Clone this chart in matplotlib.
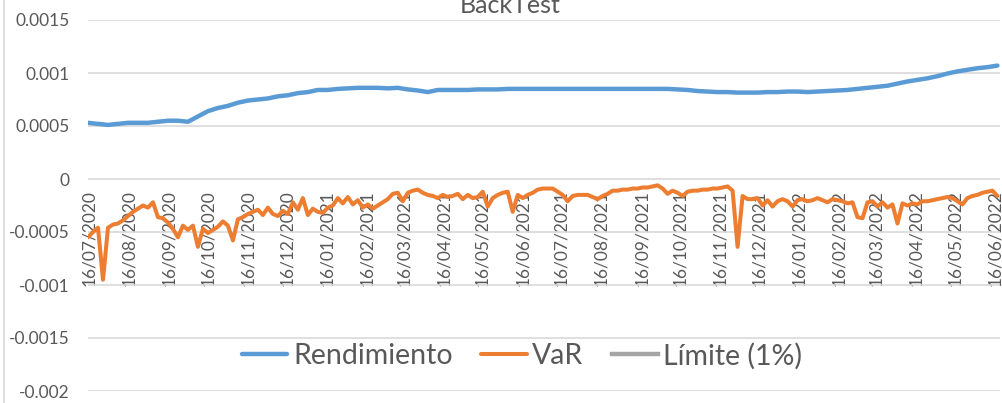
import matplotlib
matplotlib.use("Agg")
import matplotlib.pyplot as plt
import matplotlib.lines as mlines
import pandas as pd

plt.rcParams["font.family"] = ["Lato", "DejaVu Sans"]

# ---------------- data ----------------
title = "BackTest"
series_names = ["Rendimiento", "VaR", "Límite (1%)"]
start_date = "2020-07-15"
end_date = "2022-06-18"

rendimiento = [53e-5, 52e-5, 51e-5, 52e-5, 53e-5, 53e-5, 53e-5, 54e-5, 55e-5, 55e-5,
               54e-5, 59e-5, 64e-5, 67e-5, 69e-5, 72e-5, 74e-5, 75e-5, 76e-5, 78e-5,
               79e-5, 81e-5, 82e-5, 84e-5, 84e-5, 85e-5, 85.5e-5, 86e-5, 86e-5, 86e-5,
               85.5e-5, 86e-5, 84.5e-5, 83.5e-5, 82e-5, 84e-5, 84e-5, 84e-5, 84e-5, 84.5e-5,
               84.5e-5, 84.5e-5, 85e-5, 85e-5, 85e-5, 85e-5, 85e-5, 85e-5, 85e-5, 85e-5,
               85e-5, 85e-5, 85e-5, 85e-5, 85e-5, 85e-5, 85e-5, 85e-5, 85e-5, 84.5e-5,
               84e-5, 83e-5, 82.5e-5, 82e-5, 82e-5, 81.5e-5, 81.5e-5, 81.5e-5, 82e-5, 82e-5,
               82.5e-5, 82.5e-5, 82e-5, 82.5e-5, 83e-5, 83.5e-5, 84e-5, 85e-5, 86e-5, 87e-5,
               88e-5, 90e-5, 92e-5, 93.5e-5, 95e-5, 97e-5, 99.5e-5, 101.5e-5, 103e-5, 104.5e-5,
               105.5e-5, 107e-5]

var = [-55e-5, -50e-5, -46e-5, -95e-5, -46e-5, -43e-5, -42e-5, -39e-5, -35e-5, -31e-5,
       -28e-5, -25e-5, -27e-5, -22e-5, -36e-5, -37e-5, -41e-5, -47e-5, -55e-5, -44e-5,
       -48e-5, -44e-5, -64e-5, -47e-5, -51e-5, -48e-5, -45e-5, -40e-5, -44e-5, -58e-5,
       -38e-5, -36e-5, -33e-5, -31e-5, -29e-5, -34e-5, -27e-5, -33e-5, -35e-5, -30e-5,
       -33e-5, -22e-5, -29e-5, -18e-5, -34e-5, -28e-5, -31e-5, -32e-5, -27e-5, -25e-5,
       -18e-5, -23e-5, -17e-5, -24e-5, -20e-5, -27e-5, -24e-5, -28e-5, -25e-5, -22e-5,
       -19e-5, -14e-5, -13e-5, -21e-5, -13e-5, -11e-5, -10e-5, -13e-5, -15e-5, -16e-5,
       -18e-5, -15e-5, -17e-5, -16e-5, -14e-5, -19e-5, -15e-5, -18e-5, -17e-5, -12e-5,
       -26e-5, -18e-5, -15e-5, -13e-5, -12e-5, -31e-5, -15e-5, -18e-5, -15e-5, -13e-5,
       -10e-5, -9e-5, -9e-5, -9e-5, -12e-5, -15e-5, -21e-5, -16e-5, -15e-5, -15e-5,
       -15e-5, -17e-5, -19e-5, -16e-5, -14e-5, -11e-5, -11e-5, -10e-5, -10e-5, -9e-5,
       -9e-5, -8e-5, -8e-5, -7e-5, -6e-5, -9e-5, -14e-5, -11e-5, -13e-5, -16e-5,
       -12e-5, -11e-5, -11e-5, -10e-5, -10e-5, -9e-5, -9e-5, -8e-5, -7e-5, -11e-5,
       -64e-5, -16e-5, -19e-5, -19e-5, -18e-5, -25e-5, -20e-5, -26e-5, -21e-5, -19e-5,
       -21e-5, -26e-5, -20e-5, -19e-5, -21e-5, -20e-5, -18e-5, -20e-5, -22e-5, -19e-5,
       -20e-5, -21e-5, -23e-5, -22e-5, -36e-5, -37e-5, -22e-5, -21e-5, -26e-5, -22e-5,
       -27e-5, -24e-5, -42e-5, -23e-5, -25e-5, -23e-5, -24e-5, -21e-5, -21e-5, -20e-5,
       -19e-5, -18e-5, -17e-5, -18e-5, -21e-5, -24e-5, -18e-5, -16e-5, -15e-5, -13e-5,
       -12e-5, -11e-5, -16e-5]

limite = []  # no visible values, legend only

y_ticks = [0.0015, 0.001, 0.0005, 0, -0.0005, -0.001, -0.0015, -0.002]
y_tick_labels = ["0.0015", "0.001", "0.0005", "0", "-0.0005", "-0.001", "-0.0015", "-0.002"]
x_tick_first = "2020-07-16"
n_x_ticks = 24

colors = ["#5B9BD5", "#ED7D31", "#A5A5A5"]
text_color = "#595959"
grid_color = "#D9D9D9"

# ---------------- figure ----------------
W, H = 1002, 403
fig = plt.figure(figsize=(W / 100, H / 100), dpi=100)
ax = fig.add_axes([88 / W, 1 - 391 / H, 912 / W, 371 / H])

for s in ax.spines.values():
    s.set_visible(False)
ax.spines["bottom"].set_position(("data", 0))

d_rend = pd.date_range(start_date, end_date, periods=len(rendimiento))
d_var = pd.date_range(start_date, end_date, periods=len(var))

l1, = ax.plot(d_rend, rendimiento, color=colors[0], lw=3.2, solid_joinstyle="round",
              solid_capstyle="round", label=series_names[0], zorder=3)
l2, = ax.plot(d_var, var, color=colors[1], lw=2.9, solid_joinstyle="round",
              solid_capstyle="round", label=series_names[1], zorder=3)
l3, = ax.plot(pd.to_datetime(limite), limite, color=colors[2], lw=3.2,
              label=series_names[2], zorder=3)

ax.set_xlim(pd.Timestamp(start_date), pd.Timestamp("2022-06-20"))
ax.set_ylim(-0.002, 0.0015)

ax.set_yticks(y_ticks)
ax.set_yticklabels(y_tick_labels)
ax.yaxis.grid(True, color=grid_color, lw=1.2)
ax.set_axisbelow(True)

xt = pd.date_range(x_tick_first, periods=n_x_ticks, freq=pd.DateOffset(months=1))
ax.set_xticks(xt)
ax.set_xticklabels([d.strftime("%d/%m/%Y") for d in xt])

ax.tick_params(axis="y", length=0, pad=13, labelsize=12.5, labelcolor=text_color)
ax.tick_params(axis="x", length=0, pad=8, labelsize=12.5, labelcolor=text_color,
               labelrotation=90)
for lab in ax.get_xticklabels():
    lab.set_ha("center")
    lab.set_va("top")

fig.text(510 / W, 1 - 13 / H, title, ha="center", va="baseline",
         fontsize=18, color=text_color)

# chart-area border at left
fig.add_artist(mlines.Line2D([4 / W, 4 / W], [0, 1], transform=fig.transFigure,
                             color=grid_color, lw=1.2))

fig.legend(handles=[l1, l2, l3], loc="center", bbox_to_anchor=(522 / W, 1 - 356 / H),
           ncol=3, frameon=False, fontsize=20.5, labelcolor=text_color,
           handlelength=1.6, handletextpad=0.2, columnspacing=1.0)

fig.savefig("out.png", dpi=100)
